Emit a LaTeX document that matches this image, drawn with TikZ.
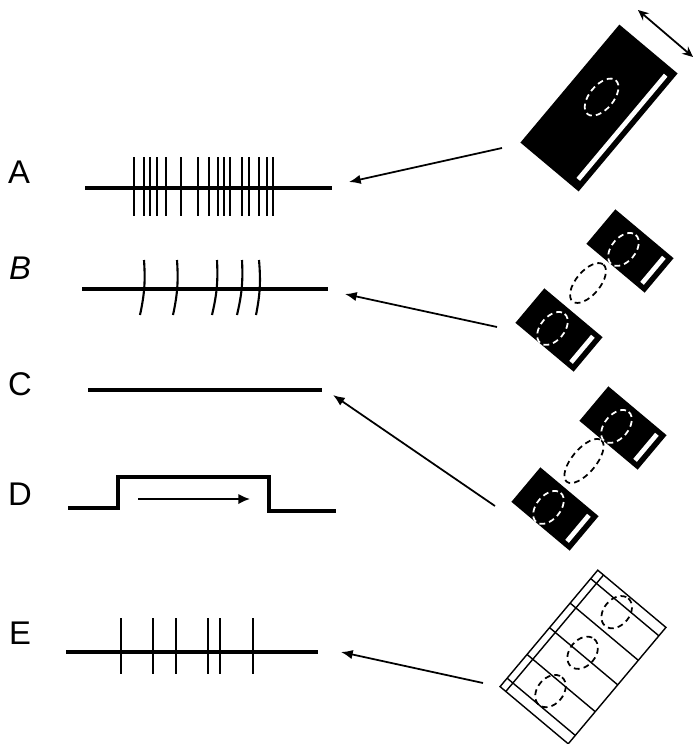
\documentclass[tikz,border=0pt]{standalone}
\usepackage{fontspec}
\setmainfont{Liberation Sans}
\usetikzlibrary{arrows.meta}
\usetikzlibrary{positioning}

\begin{document}
\begin{tikzpicture}[
  x=0.03cm, y=-0.03cm,
  trace/.style={line width=2.9pt},
  spike/.style={line width=1.8pt},
  lbl/.style={font=\fontsize{28}{30}\selectfont, inner sep=0pt},
  feed/.style={-{Latex[length=10pt, width=8pt]}, line width=1.5pt},
  slit/.style={draw=white, line width=4pt},
  pore/.style={draw=white, dash pattern=on 5pt off 3.5pt, line width=1.5pt},
  link/.style={draw=black, dash pattern=on 5pt off 3.5pt, line width=1.5pt},
  sheet/.style={draw, fill=white, line width=1.2pt},
]
\useasboundingbox (0,0) rectangle (694,744);

%% row labels
\node[lbl] (lA) at (19,172) {A};
\node[lbl] (lB) at (20,268) {\itshape B};
\node[lbl] (lC) at (20,384) {C};
\node[lbl] (lD) at (20,494) {D};
\node[lbl] (lE) at (20,633) {E};

%% trace A
\coordinate (A-l) at (85,188);
\coordinate (A-r) at (332,188);
\draw[trace] (A-l) -- (A-r);
\foreach \x in {134,144,150,157,166,181,198,209,218,224,230,242,249,259,267,273}
  \draw[spike] (\x,157) -- (\x,216);

%% trace B
\coordinate (B-l) at (82,289);
\coordinate (B-r) at (328,289);
\draw[trace] (B-l) -- (B-r);
\foreach \xb/\xt in {140/144,173/177,212/217,237/242,256/259}
  \draw[spike] (\xb,315) to[bend right=8] (\xt,260);

%% trace C
\coordinate (C-l) at (88,390);
\coordinate (C-r) at (322,390);
\draw[trace] (C-l) -- (C-r);

%% trace D
\coordinate (D-l) at (68,508);
\coordinate (D-r) at (336,511);
\draw[trace, line join=miter] (D-l) -- (118,508) -- (118,477) -- (269,477) -- (269,511) -- (D-r);
\coordinate (D-a) at (138,499);
\coordinate (D-b) at (250,499);
\draw[-{Latex[length=10pt, width=9pt]}, line width=1.7pt] (D-a) -- (D-b);

%% trace E
\coordinate (E-l) at (66,652);
\coordinate (E-r) at (318,652);
\draw[trace] (E-l) -- (E-r);
\foreach \x in {121,153,176,208,220,253}
  \draw[spike] (\x,618) -- (\x,674);

%% device A
\begin{scope}[shift={(599,108)}, rotate=50]
  \fill (-77,-38) rectangle (77,38);
  \draw[slit] (-68,30) -- (68,30);
  \draw[pore] (10,-5) ellipse [x radius=22, y radius=12];
\end{scope}
\coordinate (stroke-a) at (638,10);
\coordinate (stroke-b) at (693,57);
\draw[{Stealth[length=9pt, width=8pt]}-{Stealth[length=9pt, width=8pt]}, line width=1.5pt] (stroke-a) -- (stroke-b);

%% device B
\draw[link, rotate around={50:(588,283)}] (588,283) ellipse [x radius=24, y radius=12];
\begin{scope}[shift={(630,251)}, rotate=50]
  \fill (-22.5,-38) rectangle (22.5,38);
  \draw[slit] (-17,30) -- (17,30);
  \draw[pore] (-3,-6) ellipse [x radius=19, y radius=12];
\end{scope}
\begin{scope}[shift={(559,330)}, rotate=50]
  \fill (-22.5,-38) rectangle (22.5,38);
  \draw[slit] (-17,30) -- (17,30);
  \draw[pore] (-3,-6) ellipse [x radius=19, y radius=12];
\end{scope}

%% device C
\draw[link, rotate around={50:(584,461)}] (584,461) ellipse [x radius=27, y radius=12];
\begin{scope}[shift={(623,428)}, rotate=50]
  \fill (-22.5,-38) rectangle (22.5,38);
  \draw[slit] (-17,30) -- (17,30);
  \draw[pore] (-3,-6) ellipse [x radius=19, y radius=12];
\end{scope}
\begin{scope}[shift={(555,509)}, rotate=50]
  \fill (-22.5,-38) rectangle (22.5,38);
  \draw[slit] (-17,30) -- (17,30);
  \draw[pore] (-3,-6) ellipse [x radius=19, y radius=12];
\end{scope}

%% device E
\begin{scope}[shift={(583,657)}, rotate=50]
  \draw[sheet] (-76,-44.5) rectangle (76,44.5);
  \draw[line width=1.2pt] (-76,-37) -- (76,-37);
  \foreach \u in {65,33,1,-34,-65}
    \draw[line width=1.2pt] (\u,-44.5) -- (\u,44.5);
  \foreach \u in {56,3,-47}
    \draw[link] (\u,-3) ellipse [x radius=18, y radius=13];
\end{scope}

%% arrows from the devices to the traces
\coordinate (A-in) at (349,182);
\coordinate (A-src) at (502,148);
\coordinate (B-in) at (345,294);
\coordinate (B-src) at (497,327);
\coordinate (C-in) at (333,395);
\coordinate (C-src) at (495,506);
\coordinate (E-in) at (341,652);
\coordinate (E-src) at (483,683);
\draw[feed] (A-src) -- (A-in);
\draw[feed] (B-src) -- (B-in);
\draw[feed] (C-src) -- (C-in);
\draw[feed] (E-src) -- (E-in);

\end{tikzpicture}
\end{document}
